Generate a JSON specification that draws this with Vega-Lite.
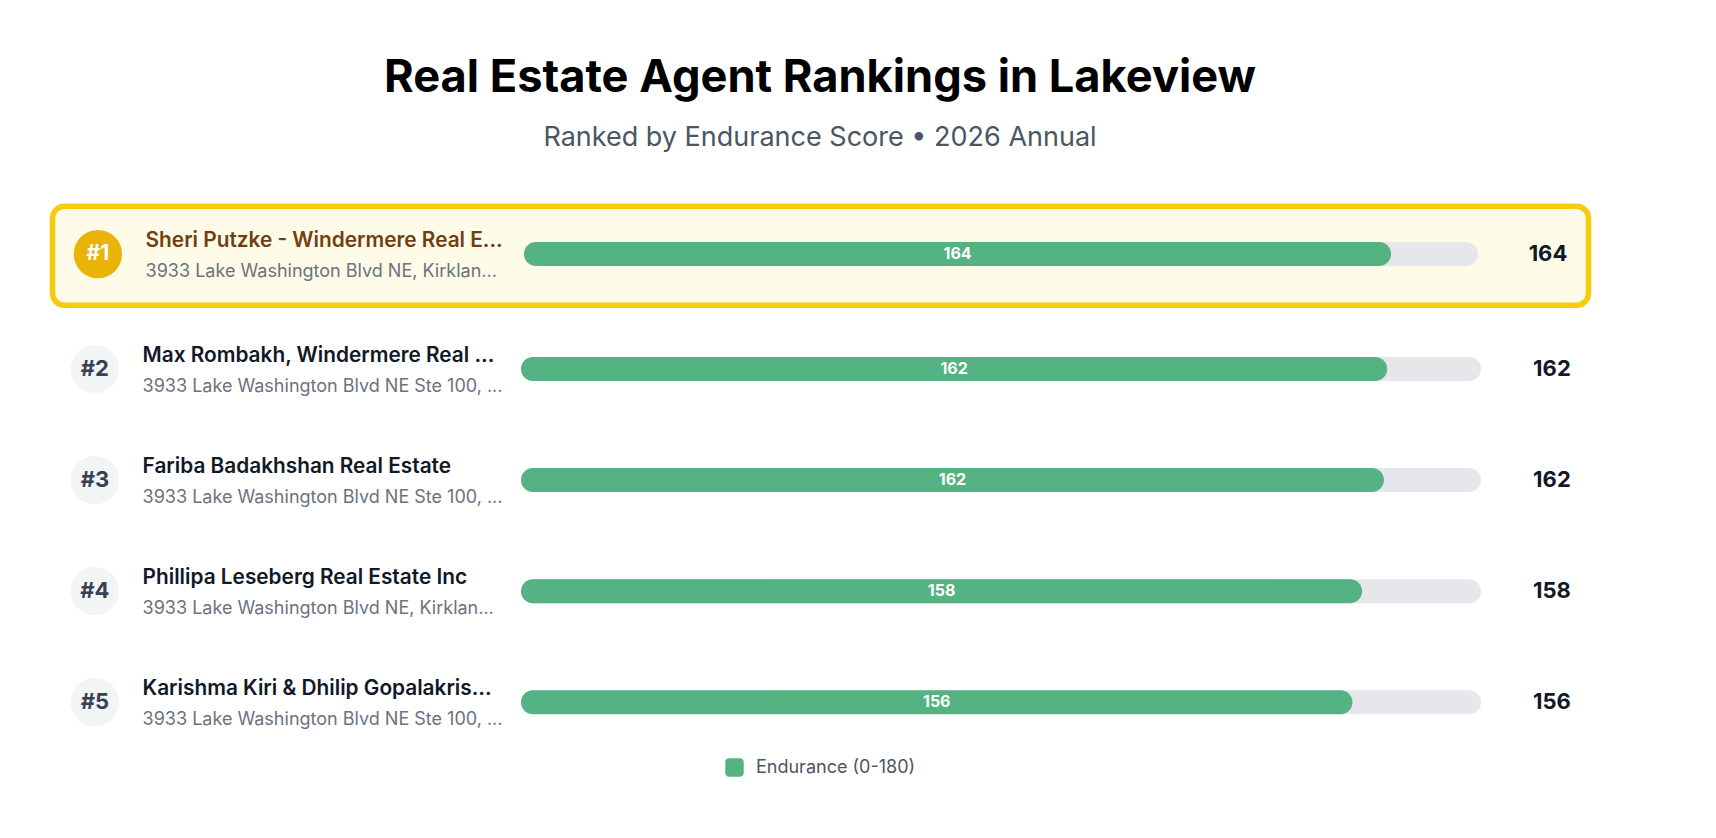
{
  "$schema": "https://vega.github.io/schema/vega-lite/v6.json",
  "width": 1640,
  "height": 590,
  "padding": {"top": 55, "left": 0, "right": 0, "bottom": 0},
  "background": "white",
  "title": {
    "text": "Real Estate Agent Rankings in Lakeview",
    "subtitle": "Ranked by Endurance Score • 2026 Annual",
    "anchor": "middle",
    "font": "Inter",
    "fontSize": 45.2,
    "fontWeight": 700,
    "color": "#000000",
    "subtitleFont": "Inter",
    "subtitleFontSize": 27,
    "subtitleFontWeight": 400,
    "subtitleColor": "#4b5563",
    "subtitlePadding": 24,
    "offset": 14
  },
  "data": {
    "values": [
      {"rank": 1, "label": "#1", "name": "Sheri Putzke - Windermere Real E...", "address": "3933 Lake Washington Blvd NE, Kirklan...", "score": 163.6},
      {"rank": 2, "label": "#2", "name": "Max Rombakh, Windermere Real ...", "address": "3933 Lake Washington Blvd NE Ste 100, ...", "score": 162.4},
      {"rank": 3, "label": "#3", "name": "Fariba Badakhshan Real Estate", "address": "3933 Lake Washington Blvd NE Ste 100, ...", "score": 161.8},
      {"rank": 4, "label": "#4", "name": "Phillipa Leseberg Real Estate Inc", "address": "3933 Lake Washington Blvd NE, Kirklan...", "score": 157.7},
      {"rank": 5, "label": "#5", "name": "Karishma Kiri & Dhilip Gopalakris...", "address": "3933 Lake Washington Blvd NE Ste 100, ...", "score": 155.9}
    ]
  },
  "layer": [
    {
      "transform": [{"filter": "datum.rank === 1"}],
      "encoding": {
        "y": {"field": "rank", "type": "quantitative", "axis": null, "scale": {"domain": [1, 2], "range": [89.1, 203.7], "nice": false, "zero": false, "padding": 0}}
      },
      "layer": [
        {
          "mark": {"type": "rect", "fill": "#fefce8", "stroke": "#f5cb0c", "strokeWidth": 5.5, "cornerRadius": 12},
          "encoding": {
            "x": {"datum": -88.96, "type": "quantitative", "axis": null, "scale": {"domain": [0, 180], "range": [524, 1478], "nice": false, "zero": false}},
            "x2": {"datum": 200.85},
            "y": {"datum": 0.583, "type": "quantitative", "axis": null, "scale": {"domain": [1, 2], "range": [89.1, 203.7], "nice": false, "zero": false, "padding": 0}},
            "y2": {"datum": 1.446}
          }
        },
        {
          "mark": {"type": "bar", "orient": "horizontal", "size": 24, "cornerRadius": 12, "color": "#e5e7eb"},
          "encoding": {
            "x": {"datum": 0, "type": "quantitative", "axis": null, "scale": {"domain": [0, 180], "range": [524, 1478], "nice": false, "zero": false}},
            "x2": {"datum": 180}
          }
        },
        {
          "mark": {"type": "bar", "orient": "horizontal", "size": 24, "cornerRadius": 12},
          "encoding": {
            "x": {"field": "score", "type": "quantitative", "stack": null, "axis": null, "scale": {"domain": [0, 180], "range": [524, 1478], "nice": false, "zero": false}},
            "color": {"datum": "Endurance (0-180)", "scale": {"range": ["#54b283"]}, "legend": {"orient": "none", "legendX": 725, "legendY": 593, "title": null, "labelFont": "Inter", "labelFontSize": 18, "labelColor": "#4b5563", "symbolType": "M-1,-0.6 A0.4,0.4 0 0 1 -0.6,-1 L0.6,-1 A0.4,0.4 0 0 1 1,-0.6 L1,0.6 A0.4,0.4 0 0 1 0.6,1 L-0.6,1 A0.4,0.4 0 0 1 -1,0.6 Z", "symbolSize": 340, "symbolStrokeWidth": 0, "symbolOpacity": 1, "labelOffset": 12}}
          }
        },
        {
          "mark": {"type": "text", "font": "Inter", "fontSize": 16, "fontWeight": 700, "color": "#ffffff", "baseline": "middle"},
          "encoding": {
            "x": {"field": "score", "type": "quantitative", "stack": "zero", "bandPosition": 0.5, "axis": null, "scale": {"domain": [0, 180], "range": [524, 1478], "nice": false, "zero": false}},
            "text": {"field": "score", "type": "quantitative", "format": ".0f"}
          }
        },
        {
          "mark": {"type": "circle", "size": 2340, "opacity": 1, "color": "#eab308"},
          "encoding": {
            "x": {"datum": -80.4, "type": "quantitative", "axis": null, "scale": {"domain": [0, 180], "range": [524, 1478], "nice": false, "zero": false}}
          }
        },
        {
          "mark": {"type": "text", "font": "Inter", "fontSize": 21, "fontWeight": 700, "color": "#ffffff", "baseline": "middle"},
          "encoding": {
            "x": {"datum": -80.4, "type": "quantitative", "axis": null, "scale": {"domain": [0, 180], "range": [524, 1478], "nice": false, "zero": false}},
            "text": {"field": "label"}
          }
        },
        {
          "mark": {"type": "text", "font": "Inter", "fontSize": 20.8, "fontWeight": 600, "color": "#713f12", "align": "left", "baseline": "middle", "dy": -13},
          "encoding": {
            "x": {"datum": -71.4, "type": "quantitative", "axis": null, "scale": {"domain": [0, 180], "range": [524, 1478], "nice": false, "zero": false}},
            "text": {"field": "name"}
          }
        },
        {
          "mark": {"type": "text", "font": "Inter", "fontSize": 18, "fontWeight": 400, "color": "#6b7280", "align": "left", "baseline": "middle", "dy": 18},
          "encoding": {
            "x": {"datum": -71.4, "type": "quantitative", "axis": null, "scale": {"domain": [0, 180], "range": [524, 1478], "nice": false, "zero": false}},
            "text": {"field": "address"}
          }
        },
        {
          "mark": {"type": "text", "font": "Inter", "fontSize": 22, "fontWeight": 700, "color": "#111827", "baseline": "middle"},
          "encoding": {
            "x": {"datum": 193.2, "type": "quantitative", "axis": null, "scale": {"domain": [0, 180], "range": [524, 1478], "nice": false, "zero": false}},
            "text": {"field": "score", "type": "quantitative", "format": ".0f"}
          }
        }
      ]
    },
    {
      "transform": [{"filter": "datum.rank > 1"}],
      "encoding": {
        "y": {"field": "rank", "type": "quantitative", "axis": null, "scale": {"domain": [2, 5], "range": [204, 537.2], "nice": false, "zero": false, "padding": 0}}
      },
      "layer": [
        {
          "mark": {"type": "bar", "orient": "horizontal", "size": 24, "cornerRadius": 12, "color": "#e5e7eb"},
          "encoding": {
            "x": {"datum": 0, "type": "quantitative", "axis": null, "scale": {"domain": [0, 180], "range": [521, 1481], "nice": false, "zero": false}},
            "x2": {"datum": 180}
          }
        },
        {
          "mark": {"type": "bar", "orient": "horizontal", "size": 24, "cornerRadius": 12},
          "encoding": {
            "x": {"field": "score", "type": "quantitative", "stack": null, "axis": null, "scale": {"domain": [0, 180], "range": [521, 1481], "nice": false, "zero": false}},
            "color": {"datum": "Endurance (0-180)"}
          }
        },
        {
          "mark": {"type": "text", "font": "Inter", "fontSize": 16, "fontWeight": 700, "color": "#ffffff", "baseline": "middle"},
          "encoding": {
            "x": {"field": "score", "type": "quantitative", "stack": "zero", "bandPosition": 0.5, "axis": null, "scale": {"domain": [0, 180], "range": [521, 1481], "nice": false, "zero": false}},
            "detail": {"field": "rank"},
            "text": {"field": "score", "type": "quantitative", "format": ".0f"}
          }
        },
        {
          "mark": {"type": "circle", "size": 2340, "opacity": 1, "color": "#f3f4f6"},
          "encoding": {
            "x": {"datum": -79.9, "type": "quantitative", "axis": null, "scale": {"domain": [0, 180], "range": [521, 1481], "nice": false, "zero": false}}
          }
        },
        {
          "mark": {"type": "text", "font": "Inter", "fontSize": 22, "fontWeight": 700, "color": "#374151", "baseline": "middle"},
          "encoding": {
            "x": {"datum": -79.9, "type": "quantitative", "axis": null, "scale": {"domain": [0, 180], "range": [521, 1481], "nice": false, "zero": false}},
            "text": {"field": "label"}
          }
        },
        {
          "mark": {"type": "text", "font": "Inter", "fontSize": 20.8, "fontWeight": 600, "color": "#111827", "align": "left", "baseline": "middle", "dy": -13},
          "encoding": {
            "x": {"datum": -70.96, "type": "quantitative", "axis": null, "scale": {"domain": [0, 180], "range": [521, 1481], "nice": false, "zero": false}},
            "text": {"field": "name"}
          }
        },
        {
          "mark": {"type": "text", "font": "Inter", "fontSize": 18, "fontWeight": 400, "color": "#6b7280", "align": "left", "baseline": "middle", "dy": 18},
          "encoding": {
            "x": {"datum": -70.96, "type": "quantitative", "axis": null, "scale": {"domain": [0, 180], "range": [521, 1481], "nice": false, "zero": false}},
            "text": {"field": "address"}
          }
        },
        {
          "mark": {"type": "text", "font": "Inter", "fontSize": 22, "fontWeight": 700, "color": "#111827", "baseline": "middle"},
          "encoding": {
            "x": {"datum": 193.3, "type": "quantitative", "axis": null, "scale": {"domain": [0, 180], "range": [521, 1481], "nice": false, "zero": false}},
            "text": {"field": "score", "type": "quantitative", "format": ".0f"}
          }
        }
      ]
    }
  ],
  "resolve": {"scale": {"x": "independent", "y": "independent"}},
  "config": {"view": {"stroke": null}}
}
